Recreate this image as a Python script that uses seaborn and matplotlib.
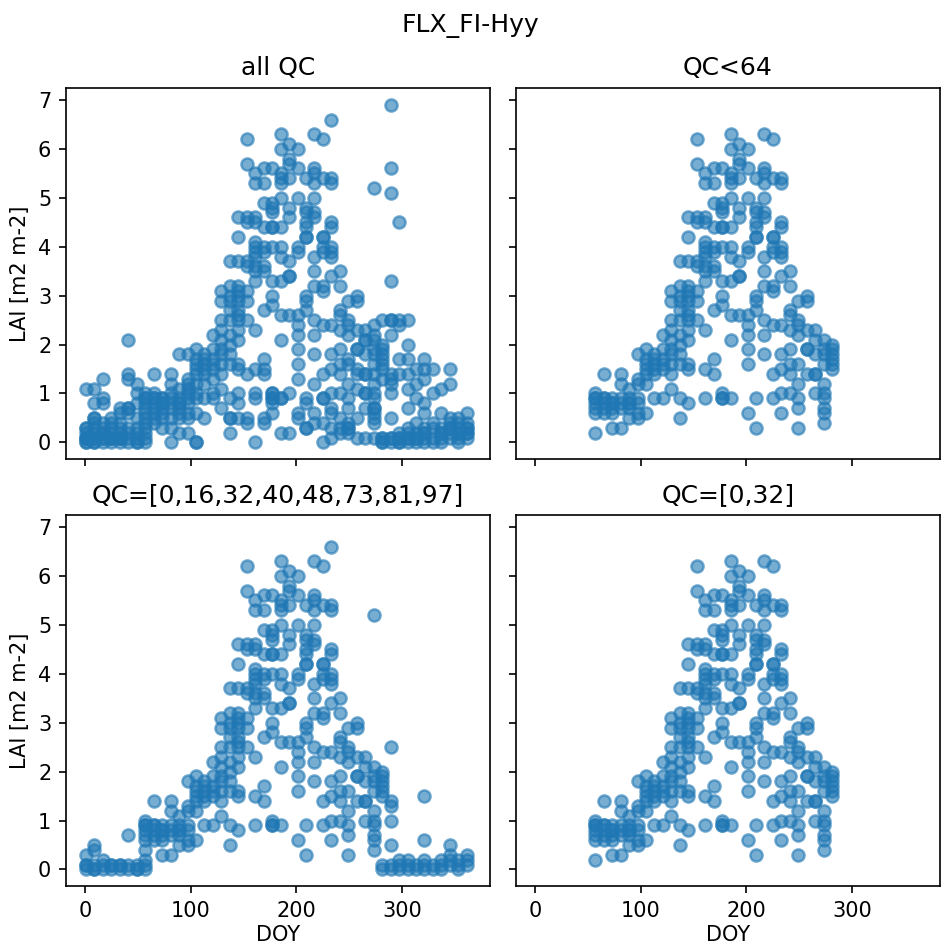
import pandas as pd
import matplotlib
matplotlib.use("Agg")
import matplotlib.pyplot as plt
import seaborn as sns

# LAI (8-day composites), grouped by QC class
site = "FLX_FI-Hyy"

# QC = 0 (good retrievals)
good_doy = [57, 65, 73, 81, 89, 97, 105, 113, 121, 129, 137, 145, 153, 161, 169,
            177, 185, 193, 201, 209, 217, 225, 233, 241, 249, 257, 265, 273, 281]
good_lai = [
    [1.0, 0.9, 0.8, 0.6, 0.2, 0.9, 0.7],
    [1.4, 0.9, 0.8, 0.7, 0.6, 0.9],
    [0.9, 0.8, 0.7, 0.6, 0.3, 0.8],
    [1.4, 1.2, 0.9, 0.8, 0.7, 0.3],
    [1.1, 0.9, 0.8, 0.7, 0.5, 0.8],
    [1.8, 1.3, 1.2, 0.9, 0.8, 0.6, 0.5],
    [1.9, 1.7, 1.5, 1.4, 1.2, 0.6, 1.6],
    [1.8, 1.6, 1.5, 0.9, 1.7, 1.4],
    [2.2, 1.9, 1.7, 1.5, 0.9, 1.6],
    [3.1, 2.9, 2.5, 2.3, 2.1, 1.9, 1.8, 1.6, 1.4, 1.1],
    [3.7, 3.2, 3.0, 2.9, 2.7, 2.5, 2.2, 2.0, 1.8, 1.6, 0.9, 0.5],
    [4.6, 4.2, 3.7, 3.2, 3.1, 3.0, 2.9, 2.7, 2.6, 2.5, 2.3, 2.1, 1.6, 1.5, 0.8],
    [6.2, 5.7, 4.6, 4.5, 3.7, 3.6, 3.1, 2.9, 2.5],
    [5.5, 5.3, 4.6, 4.5, 4.1, 4.0, 3.9, 3.8, 3.6, 3.5, 3.3, 2.3, 1.5, 0.9],
    [5.6, 5.3, 4.9, 4.4, 4.0, 3.9, 3.6, 3.5, 2.7, 1.7, 1.4],
    [5.6, 4.9, 4.8, 4.7, 4.4, 4.4, 4.0, 3.3, 3.0, 2.8, 1.0, 0.9, 0.9],
    [6.3, 6.0, 5.5, 5.4, 5.3, 5.0, 4.4, 4.0, 3.8, 3.3, 2.6, 2.1, 0.9],
    [6.1, 5.8, 5.7, 5.4, 4.8, 4.6, 3.7, 3.4, 3.4, 2.6],
    [6.0, 5.6, 5.0, 4.0, 3.9, 2.6, 2.4, 2.2, 1.9, 1.6, 0.6],
    [5.4, 4.8, 4.7, 4.5, 4.4, 4.2, 4.2, 3.0, 2.9, 2.7, 0.9, 0.3],
    [6.3, 5.6, 5.5, 5.3, 5.0, 4.7, 4.6, 3.8, 3.5, 3.2, 2.5, 2.2, 1.8],
    [6.2, 5.4, 4.2, 4.2, 4.0, 3.9, 3.2, 3.1, 2.4, 1.4, 0.9],
    [5.4, 5.3, 4.5, 4.4, 4.0, 3.9, 3.8, 3.4, 2.4, 1.8, 1.5, 1.0, 0.6],
    [3.5, 3.2, 2.7, 2.6, 2.3, 1.9, 1.6, 1.4, 1.0],
    [2.9, 2.5, 2.4, 2.2, 1.6, 1.2, 0.9, 0.7, 0.3],
    [3.0, 2.9, 2.3, 1.9, 1.9, 1.4],
    [2.3, 2.1, 1.8, 1.4, 1.4, 1.0],
    [2.1, 1.9, 1.8, 1.6, 1.2, 1.0, 0.9, 0.7, 0.6, 0.4],
    [2.0, 1.9, 1.8, 1.7, 1.6, 1.5],
]

# QC = 97 (in the accepted list, but >= 64)
mid_doy = [1, 9, 17, 25, 33, 41, 49, 57, 233, 273, 281, 289, 297, 305, 313,
           321, 329, 337, 345, 353, 361]
mid_lai = [
    [0.3, 0.1, 0.1, 0.0],
    [0.5, 0.4, 0.1, 0.0, 0.0],
    [0.2, 0.1, 0.0],
    [0.1, 0.0, 0.1],
    [0.1, 0.1, 0.0],
    [0.7, 0.1, 0.0],
    [0.1, 0.0, 0.0],
    [0.4, 0.1, 0.0],
    [6.6],
    [5.2],
    [0.1, 0.0],
    [2.5, 1.4, 1.3, 1.0, 0.5, 0.1, 0.0],
    [0.2, 0.1, 0.0],
    [0.2, 0.1, 0.0],
    [0.1, 0.0],
    [1.5, 0.6, 0.2, 0.1, 0.0],
    [0.1, 0.0],
    [0.2, 0.1, 0.0],
    [0.5, 0.3, 0.2, 0.1],
    [0.2, 0.1, 0.0],
    [0.3, 0.2, 0.1],
]

# QC = 65 (rejected by every filter)
bad_doy = [1, 9, 17, 25, 33, 41, 49, 57, 65, 73, 81, 89, 97, 105, 113, 121, 129,
           137, 145, 153, 161, 169, 177, 185, 193, 201, 209, 217, 225, 233, 241,
           249, 257, 265, 273, 281, 289, 297, 305, 313, 321, 329, 337, 345, 353, 361]
bad_lai = [
    [1.1, 0.3, 0.2, 0.1, 0.0],
    [1.1, 0.8, 0.5, 0.3, 0.2, 0.1],
    [1.3, 0.9, 0.8, 0.4, 0.3, 0.2, 0.1],
    [0.5, 0.4, 0.3, 0.2, 0.1],
    [0.7, 0.6, 0.4, 0.3, 0.2, 0.1],
    [2.1, 1.4, 1.3, 0.7, 0.6, 0.3, 0.2],
    [1.2, 1.0, 0.8, 0.5, 0.3, 0.2],
    [0.5, 0.3],
    [1.0, 0.5, 0.4],
    [0.9, 0.5],
    [1.0, 0.0, 0.5],
    [1.8, 0.2, 0.6],
    [1.1, 0.2, 1.0],
    [0.0, 0.0, 1.0, 0.9],
    [0.5, 1.2],
    [1.3, 1.0],
    [0.7],
    [0.5, 0.2],
    [1.0, 0.5],
    [0.5, 0.4, 1.4],
    [0.0, 1.0],
    [0.5, 0.4, 1.5],
    [1.0, 0.8, 0.6],
    [0.9, 0.2],
    [1.0, 0.2],
    [0.5, 1.3],
    [0.3, 0.8],
    [0.6, 0.4, 1.2],
    [0.4, 0.0, 0.9],
    [0.7, 0.3, 0.1],
    [0.2, 0.3, 0.5],
    [0.4, 0.3, 0.2, 1.7],
    [0.5, 0.1, 1.5, 1.1],
    [1.0, 0.7, 0.1, 2.1],
    [0.7, 0.5, 0.1, 1.4, 2.2, 2.4],
    [0.1, 0.0, 1.3, 2.5],
    [6.9, 5.6, 5.1, 3.3, 2.5, 2.2, 1.2, 0.1],
    [4.5, 2.5, 2.4, 1.7, 1.4, 0.1, 0.0],
    [2.5, 2.0, 1.7, 1.4, 1.1, 0.7, 0.3, 0.1],
    [1.5, 1.2, 0.9, 0.4, 0.2, 0.1],
    [1.7, 1.3, 0.8, 0.3, 0.2],
    [1.5, 1.0, 0.4, 0.3],
    [1.1, 0.6, 0.3, 0.2],
    [1.5, 1.2, 0.4, 0.3],
    [0.5, 0.4, 0.3, 0.2],
    [0.6, 0.4, 0.3, 0.2],
]

qc_good, qc_mid, qc_bad = 0, 97, 65

# long table
rows = []
for cols, vals, qc in [(good_doy, good_lai, qc_good),
                       (mid_doy, mid_lai, qc_mid),
                       (bad_doy, bad_lai, qc_bad)]:
    for d, vs in zip(cols, vals):
        for v in vs:
            rows.append((d, v, qc))
df = pd.DataFrame(rows, columns=["DOY", "LAI", "QC"])

panels = [
    ("all QC", df),
    ("QC<64", df[df.QC < 64]),
    ("QC=[0,16,32,40,48,73,81,97]", df[df.QC.isin([0, 16, 32, 40, 48, 73, 81, 97])]),
    ("QC=[0,32]", df[df.QC.isin([0, 32])]),
]

dpi = 150
fig, axes = plt.subplots(2, 2, figsize=(941 / dpi, 951 / dpi), sharex=True, sharey=True)
fig.subplots_adjust(left=0.070, right=0.999, top=0.9075, bottom=0.068,
                    wspace=0.061, hspace=0.15)

for ax, (title, d) in zip(axes.flat, panels):
    sns.scatterplot(data=d, x="DOY", y="LAI", ax=ax, color="tab:blue",
                    alpha=0.6, s=34, edgecolor="face", linewidth=1.2)
    ax.set_title(title)
    ax.set_xlabel("")
    ax.set_ylabel("")

ax0 = axes[0, 0]
ax0.set_xlim(-18, 383)
ax0.set_ylim(-0.345, 7.245)
ax0.set_xticks([0, 100, 200, 300])
ax0.set_yticks(range(8))

for ax in axes[:, 0]:
    ax.set_ylabel("LAI [m2 m-2]")
for ax in axes[1, :]:
    ax.set_xlabel("DOY", labelpad=2)

fig.suptitle(site, y=0.985)
fig.savefig("out.png", dpi=dpi)
